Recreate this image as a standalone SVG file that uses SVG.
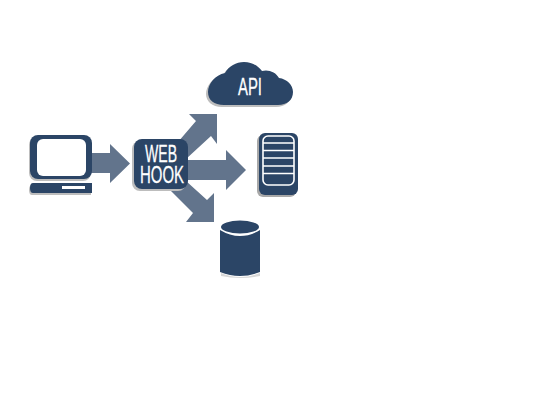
<svg xmlns="http://www.w3.org/2000/svg" width="550" height="400" viewBox="0 0 550 400">
<style>
.d{fill:#2b4566}.a{fill:#62748c}.w{fill:#fff}.s{fill:#bdbdbd}
.t{font-family:"Liberation Sans",sans-serif;font-size:24px;fill:#fff;stroke:#fff;stroke-width:.3;text-anchor:start}
</style>
<g id="connectors">
<path class="a" d="M91 153H110V144L130 163.500L110 183V173H91Z"/>
<path class="a" d="M180 160H226V150L246 170L226 190V180H180Z"/>
<path class="a" d="M178 142L196 121L189 114H217V144L211 136L186 159Z"/>
<path class="a" d="M168 188L193 213L186 222H214V193L207 200L186 181Z"/>
</g>
<g id="laptop">
<rect class="s" x="29" y="137" width="62" height="44" rx="8"/>
<path class="s" d="M32 185H91V195H32Q29 195 29 190Q29 185 32 185Z"/>
<rect class="d" x="30" y="135" width="62" height="44" rx="8"/>
<rect class="w" x="37" y="139" width="49" height="37" rx="6"/>
<path class="d" d="M33 183H92V193H33Q30 193 30 188Q30 183 33 183Z"/>
<rect class="w" x="62" y="186" width="23" height="3"/>
</g>
<g id="webhook">
<rect class="s" x="132" y="141" width="54" height="50" rx="8"/>
<rect class="d" x="134" y="139" width="54" height="50" rx="8"/>
<text class="t"><tspan x="145" y="161.500" textLength="32" lengthAdjust="spacingAndGlyphs">WEB</tspan><tspan x="140" y="182.500" textLength="44" lengthAdjust="spacingAndGlyphs">HOOK</tspan></text>
</g>
<g id="api">
<path class="s" d="M222 107C212 107 206 101 206 94C206 86 213 77 223 75C227 68 234 64 242 64C250 64 256 68 260 73C266 71 274 74 277 80C285 81 291 87 291 94C291 102 285 107 276 107Z"/>
<path class="d" d="M224 105C214 105 208 100 208 92C208 84 215 75 225 73C229 66 236 62 244 62C252 62 258 66 262 71C268 69 276 72 279 78C287 79 293 85 293 92C293 100 287 105 278 105Z"/>
<text class="t" x="238" y="95" textLength="24" lengthAdjust="spacingAndGlyphs">API</text>
</g>
<g id="server">
<rect x="257" y="135" width="39" height="62" rx="6" fill="#a8a8a8"/>
<rect class="d" x="259" y="133" width="39" height="62" rx="6"/>
<rect x="263" y="136" width="31" height="49" rx="5" fill="none" stroke="#fff" stroke-width="1.6"/>
<path d="M263 143H294M263 150.500H294M263 158H294M263 166H294M263 173.500H294" stroke="#fff" stroke-width="1.6" fill="none"/>
</g>
<g id="database">
<path class="s" d="M221 273Q240 281 260 273V276Q240 280 221 276Z" opacity=".6"/>
<path class="d" d="M220 230Q240 242 260 230V272Q240 280 220 272Z"/>
<ellipse class="d" cx="240" cy="227" rx="19" ry="6.500"/>
</g>
</svg>
